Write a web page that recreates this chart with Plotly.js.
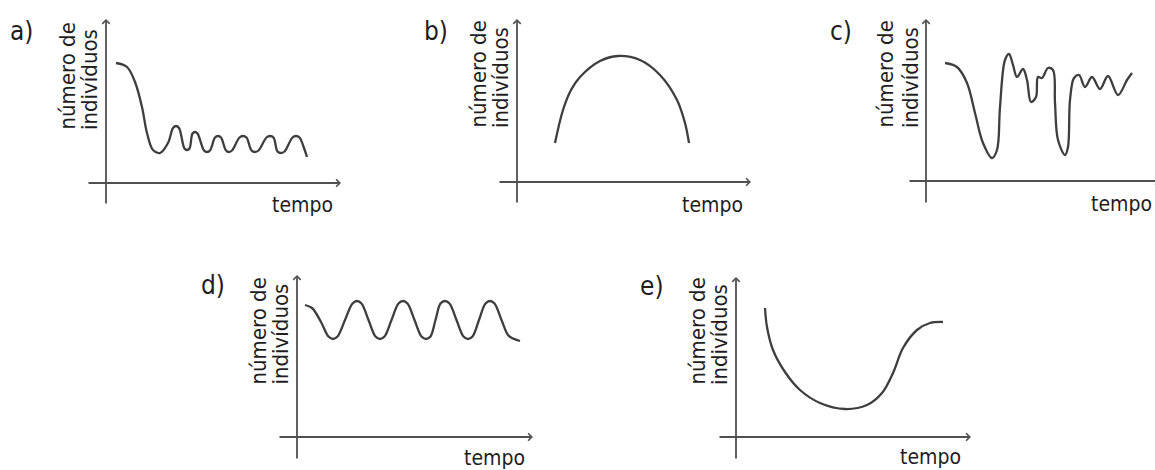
<!DOCTYPE html>
<html>
<head>
<meta charset="utf-8">
<script src="https://cdn.plot.ly/plotly-3.0.1.min.js"></script>
<style>
  html, body { margin: 0; padding: 0; background: #ffffff; }
  #chart { width: 1155px; height: 470px; }
</style>
</head>
<body>
<div id="chart"></div>
<script>
// ---------- data (arbitrary units: tempo / número de indivíduos) ----------
const panelLetters = ["a)", "b)", "c)", "d)", "e)"];
const yLabelLine1 = "número de";
const yLabelLine2 = "indivíduos";
const xLabel = "tempo";

// a) sharp fall, then damped oscillation
const aTempo      = [1.0, 2.1, 2.9, 3.6, 4.1, 4.7, 5.4, 6.2, 6.7, 7.0, 7.3, 7.85, 8.1, 8.35, 8.65, 8.9, 9.15, 9.8, 10.1, 10.4, 10.9, 11.2, 11.5, 12.0, 12.3, 12.6, 13.35, 13.7, 14.05, 14.55, 14.9, 15.25, 16.05, 16.4, 16.75, 17.15, 17.5, 17.85, 18.65, 19.0, 19.35, 19.8, 20.1];
const aIndividuos = [12.0, 11.6, 10.1, 7.6, 5.0, 3.3, 3.0, 4.0, 5.5, 5.7, 5.5, 3.45, 3.3, 3.45, 4.95, 5.1, 4.95, 3.25, 3.1, 3.25, 4.55, 4.7, 4.55, 3.25, 3.1, 3.25, 4.55, 4.7, 4.55, 3.25, 3.1, 3.25, 4.55, 4.7, 4.55, 3.15, 3.0, 3.15, 4.55, 4.7, 4.55, 3.5, 2.6];

// b) rise and fall (arch)
const bTempo      = [3.8, 4.6, 5.4, 6.3, 8.3, 10.1, 12.3, 14.3, 16.0, 16.8, 17.2];
const bIndividuos = [3.9, 7.2, 9.2, 10.5, 12.1, 12.6, 12.2, 10.7, 8.2, 5.9, 3.9];

// c) irregular fluctuations
const cTempo      = [1.9, 3.1, 4.1, 4.9, 5.7, 6.6, 7.1, 7.4, 7.9, 8.3, 8.7, 9.1, 9.7, 10.1, 10.5, 11.0, 11.2, 11.6, 12.2, 12.7, 12.9, 13.2, 13.9, 14.2, 14.4, 14.8, 15.3, 15.9, 16.6, 17.4, 18.2, 19.2, 20.1, 20.6];
const cIndividuos = [11.8, 11.4, 9.8, 6.8, 3.8, 2.3, 3.1, 7.4, 12.1, 12.7, 11.6, 10.4, 11.2, 10.1, 7.9, 8.4, 10.4, 10.3, 11.3, 11.1, 7.8, 4.1, 2.6, 3.4, 8.1, 10.3, 10.6, 9.4, 10.4, 9.2, 10.5, 8.6, 10.1, 10.8];

// d) regular oscillation
const dTempo      = [0.8, 1.5, 2.4, 3.15, 3.6, 4.05, 4.8, 5.55, 6.0, 6.45, 7.15, 7.85, 8.3, 8.75, 9.45, 10.15, 10.6, 11.05, 11.75, 12.45, 12.9, 13.35, 13.85, 14.35, 14.8, 15.25, 15.95, 16.65, 17.1, 17.55, 18.2, 18.85, 19.3, 19.75, 20.45, 21.1, 21.6, 22.3];
const dIndividuos = [13.2, 12.9, 11.5, 10.05, 9.8, 10.05, 11.7, 13.35, 13.6, 13.35, 11.7, 10.05, 9.8, 10.05, 11.7, 13.35, 13.6, 13.35, 11.7, 10.05, 9.8, 10.05, 11.7, 13.35, 13.6, 13.35, 11.7, 10.05, 9.8, 10.05, 11.7, 13.35, 13.6, 13.35, 11.7, 10.2, 9.85, 9.6];

// e) decline then recovery
const eTempo      = [2.9, 3.1, 3.7, 4.9, 6.4, 8.4, 10.9, 13.1, 14.6, 15.7, 16.7, 18.1, 19.4, 20.7];
const eIndividuos = [12.9, 11.0, 8.7, 6.5, 4.7, 3.4, 2.8, 3.2, 4.4, 6.4, 8.9, 10.7, 11.4, 11.5];

const seriesTempo = [aTempo, bTempo, cTempo, dTempo, eTempo];
const seriesIndividuos = [aIndividuos, bIndividuos, cIndividuos, dIndividuos, eIndividuos];

// ---------- layout (pixel geometry of each small panel) ----------
const W = 1155, H = 470, UNIT = 10; // 10 px per data unit
const FONT = "'DejaVu Sans Condensed', 'Liberation Sans', Arial, sans-serif";
const INK = "#3e3e3e", AXIS = "#505050", TXT = "#1e1e1e";

// origin pixel of each panel, axis extents (data units), label pixel positions
const panels = [
  { ox: 106, oy: 183, xr: [-3, 25],   yr: [-3, 18], xAxis: [-1.9, 23.5], yAxis: [-2.2, 16.4],
    letter: [21, 31], lab1x: 67, lab2x: 89.5, labBottom: 131, tempo: [302, 205] },
  { ox: 517, oy: 182, xr: [-3, 25],   yr: [-3, 18], xAxis: [-1.9, 23.4], yAxis: [-2.2, 16.3],
    letter: [436, 31], lab1x: 478, lab2x: 500.5, labBottom: 129, tempo: [712, 205] },
  { ox: 926, oy: 181, xr: [-3, 22.9], yr: [-3, 18], xAxis: [-1.8, 23.4], yAxis: [-2.3, 16.2],
    letter: [841, 31], lab1x: 885, lab2x: 910.5, labBottom: 129, tempo: [1121, 204] },
  { ox: 297, oy: 437, xr: [-3, 25],   yr: [-3, 18], xAxis: [-1.9, 23.6], yAxis: [-2.3, 16.2],
    letter: [213, 285], lab1x: 258, lab2x: 280, labBottom: 386, tempo: [494, 458] },
  { ox: 736, oy: 437, xr: [-3, 25],   yr: [-3, 18], xAxis: [-1.8, 23.5], yAxis: [-2.3, 16.0],
    letter: [652, 286], lab1x: 697, lab2x: 719.5, labBottom: 386, tempo: [930, 457] }
];

const clamp01 = v => Math.max(0, Math.min(1, v));
const pxX = x => x / W;
const pxY = y => 1 - y / H;

const layout = {
  width: W, height: H, autosize: false,
  margin: { l: 0, r: 0, t: 0, b: 0, pad: 0 },
  paper_bgcolor: "#ffffff", plot_bgcolor: "rgba(0,0,0,0)",
  showlegend: false,
  font: { family: FONT, color: TXT },
  annotations: []
};
const traces = [];

panels.forEach((p, i) => {
  const n = i === 0 ? "" : String(i + 1);
  const xa = "xaxis" + n, ya = "yaxis" + n, xr = "x" + n, yr = "y" + n;
  layout[xa] = {
    domain: [clamp01((p.ox + UNIT * p.xr[0]) / W), clamp01((p.ox + UNIT * p.xr[1]) / W)],
    range: p.xr, visible: false, fixedrange: true, anchor: yr
  };
  layout[ya] = {
    domain: [clamp01(1 - (p.oy - UNIT * p.yr[0]) / H), clamp01(1 - (p.oy - UNIT * p.yr[1]) / H)],
    range: p.yr, visible: false, fixedrange: true, anchor: xr
  };

  traces.push({
    type: "scatter", mode: "lines", xaxis: xr, yaxis: yr,
    x: seriesTempo[i], y: seriesIndividuos[i],
    line: { color: INK, width: 2.3, shape: "spline", smoothing: 1.0 },
    hoverinfo: "skip", cliponaxis: false
  });

  const arrowCommon = {
    xref: xr, yref: yr, axref: xr, ayref: yr, text: "", showarrow: true,
    arrowhead: 4, arrowsize: 0.8, arrowwidth: 1.8, arrowcolor: AXIS, standoff: 0, startstandoff: 0
  };
  // time axis (horizontal, with arrow)
  layout.annotations.push(Object.assign({}, arrowCommon, {
    x: p.xAxis[1], y: 0, ax: p.xAxis[0], ay: 0
  }));
  // population axis (vertical, with arrow)
  layout.annotations.push(Object.assign({}, arrowCommon, {
    x: 0, y: p.yAxis[1], ax: 0, ay: p.yAxis[0]
  }));

  // panel letter
  layout.annotations.push({
    xref: "paper", yref: "paper", x: pxX(p.letter[0]), y: pxY(p.letter[1]),
    xanchor: "center", yanchor: "middle", showarrow: false,
    text: panelLetters[i], font: { family: FONT, size: 26, color: TXT }
  });
  // rotated y label, two lines
  [[p.lab1x, yLabelLine1], [p.lab2x, yLabelLine2]].forEach(([lx, t]) => {
    layout.annotations.push({
      xref: "paper", yref: "paper", x: pxX(lx), y: pxY(p.labBottom),
      xanchor: "center", yanchor: "bottom", showarrow: false, textangle: -90,
      text: t, font: { family: FONT, size: 22, color: TXT }, borderpad: 0
    });
  });
  // x label
  layout.annotations.push({
    xref: "paper", yref: "paper", x: pxX(p.tempo[0]), y: pxY(p.tempo[1]),
    xanchor: "center", yanchor: "middle", showarrow: false,
    text: xLabel, font: { family: FONT, size: 21, color: TXT }, borderpad: 0
  });
});

Plotly.newPlot("chart", traces, layout, { displayModeBar: false, staticPlot: true });
</script>
</body>
</html>
